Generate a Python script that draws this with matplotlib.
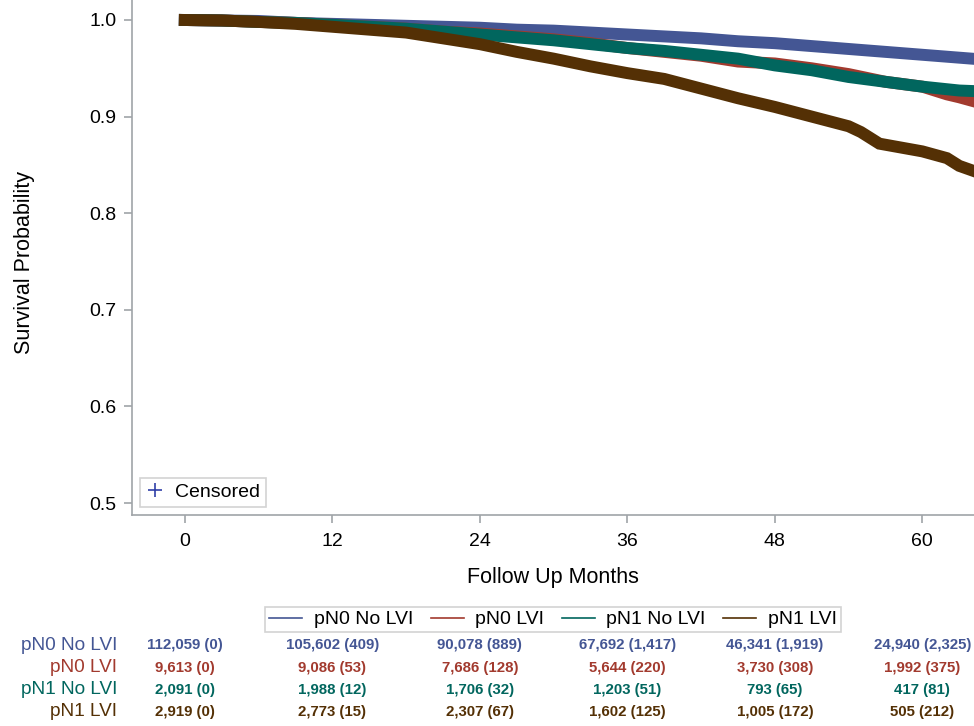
import numpy as np
import matplotlib.pyplot as plt
from matplotlib.lines import Line2D
from matplotlib.transforms import blended_transform_factory
from matplotlib import font_manager

plt.rcParams['font.family'] = ['Liberation Sans', 'DejaVu Sans']

# groups and colours
groups = ['pN0 No LVI', 'pN0 LVI', 'pN1 No LVI', 'pN1 LVI']
colors = ['#445694', '#A23A2E', '#01665E', '#543005']

# survival curves
t_pn0_nolvi = [0, 3, 6, 9, 12, 15, 18, 21, 24, 27, 30, 33, 36, 39, 42, 45, 48, 51, 54, 57, 60, 63, 65]
s_pn0_nolvi = [1.0, 0.9995, 0.999, 0.997, 0.996, 0.995, 0.994, 0.993, 0.992, 0.990, 0.989, 0.987,
               0.985, 0.983, 0.981, 0.978, 0.976, 0.973, 0.970, 0.967, 0.964, 0.961, 0.959]

t_pn0_lvi = [0, 3, 6, 9, 12, 15, 18, 21, 24, 27, 30, 33, 36, 39, 42, 45, 48, 51, 54, 57, 60, 62, 63, 65]
s_pn0_lvi = [1.0, 0.9995, 0.998, 0.997, 0.995, 0.993, 0.991, 0.988, 0.986, 0.983, 0.980, 0.976,
             0.971, 0.967, 0.963, 0.957, 0.955, 0.950, 0.944, 0.936, 0.931, 0.923, 0.920, 0.913]

t_pn1_nolvi = [0, 3, 6, 9, 12, 15, 18, 21, 24, 27, 30, 33, 36, 39, 42, 45, 48, 51, 54, 57, 60, 63, 65]
s_pn1_nolvi = [1.0, 0.9995, 0.998, 0.997, 0.995, 0.993, 0.991, 0.988, 0.985, 0.982, 0.979, 0.975,
               0.971, 0.968, 0.964, 0.960, 0.953, 0.948, 0.941, 0.936, 0.931, 0.927, 0.926]

t_pn1_lvi = [0, 3, 6, 9, 12, 15, 18, 21, 24, 27, 30, 33, 36, 39, 42, 45, 48, 51, 54, 55, 56.5,
             60, 62, 63, 65]
s_pn1_lvi = [1.0, 0.9995, 0.998, 0.996, 0.993, 0.990, 0.987, 0.981, 0.975, 0.967, 0.960, 0.952,
             0.945, 0.939, 0.929, 0.919, 0.910, 0.900, 0.890, 0.884, 0.872, 0.864, 0.857, 0.849, 0.840]

curves = [(t_pn0_nolvi, s_pn0_nolvi), (t_pn0_lvi, s_pn0_lvi),
          (t_pn1_nolvi, s_pn1_nolvi), (t_pn1_lvi, s_pn1_lvi)]

# number at risk (events) table
risk_months = [0, 12, 24, 36, 48, 60]
risk_pn0_nolvi = ['112,059 (0)', '105,602 (409)', '90,078 (889)', '67,692 (1,417)', '46,341 (1,919)', '24,940 (2,325)']
risk_pn0_lvi = ['9,613 (0)', '9,086 (53)', '7,686 (128)', '5,644 (220)', '3,730 (308)', '1,992 (375)']
risk_pn1_nolvi = ['2,091 (0)', '1,988 (12)', '1,706 (32)', '1,203 (51)', '793 (65)', '417 (81)']
risk_pn1_lvi = ['2,919 (0)', '2,773 (15)', '2,307 (67)', '1,602 (125)', '1,005 (172)', '505 (212)']
risk_rows = [risk_pn0_nolvi, risk_pn0_lvi, risk_pn1_nolvi, risk_pn1_lvi]

# bold sans for the table numbers
bold_fp = font_manager.FontProperties(family='Liberation Sans', weight='bold', size=10.8)

W, H = 974, 726
fig = plt.figure(figsize=(W / 100, H / 100), dpi=100)
ax = fig.add_axes([132 / W, 1 - 515 / H, 1 - 132 / W, 515 / H])

for (t, s), c in zip(curves, colors):
    ax.plot(t, s, color=c, linewidth=8.6, solid_capstyle='projecting', solid_joinstyle='miter')

ax.set_xlim(-4.3, 64.2)
ax.set_ylim(0.4876, 1.0207)
ax.set_xticks([0, 12, 24, 36, 48, 60])
ax.set_yticks([0.5, 0.6, 0.7, 0.8, 0.9, 1.0])
ax.set_yticklabels(['0.5', '0.6', '0.7', '0.8', '0.9', '1.0'])

spine_col = '#A0A4A8'
for side in ['top', 'right']:
    ax.spines[side].set_visible(False)
for side in ['left', 'bottom']:
    ax.spines[side].set_color(spine_col)
    ax.spines[side].set_linewidth(1.2)
ax.tick_params(axis='both', direction='out', length=6, width=1.2, color=spine_col,
               labelsize=14, labelcolor='black')
ax.tick_params(axis='x', pad=7)
ax.tick_params(axis='y', pad=5)

fig.text(25 / W, 1 - 262 / H, 'Survival Probability', rotation=90, ha='center', va='center', fontsize=15.5)
fig.text(553 / W, 1 - 577 / H, 'Follow Up Months', ha='center', va='center', fontsize=15.5)

# censored legend
cens = Line2D([], [], linestyle='none', marker='+', color='#3040A8', markersize=10, markeredgewidth=1.2)
leg1 = ax.legend(handles=[cens], labels=['Censored'], loc='lower left',
                 bbox_to_anchor=(0.0095, 0.0155), borderaxespad=0, fontsize=14,
                 frameon=True, fancybox=False, edgecolor='#C8C8C8', handlelength=0.9,
                 handletextpad=0.6, borderpad=0.3)
leg1.get_frame().set_linewidth(1.2)

# group legend
handles = [Line2D([], [], color=c, linewidth=1.2) for c in colors]
leg2 = fig.legend(handles=handles, labels=groups, loc='center', ncol=4,
                  bbox_to_anchor=(553 / W, 1 - 619.5 / H), fontsize=14, frameon=True,
                  fancybox=False, edgecolor='#C8C8C8', handlelength=1.7, handletextpad=0.6,
                  columnspacing=0.9, borderpad=0.2)
leg2.get_frame().set_linewidth(1.2)

# at-risk table
trans = blended_transform_factory(ax.transData, fig.transFigure)
row_y = [645, 668, 690, 712]
for name, c, vals, y in zip(groups, colors, risk_rows, row_y):
    fig.text(117 / W, 1 - y / H, name, color=c, ha='right', va='center', fontsize=13.7)
    for m, v in zip(risk_months, vals):
        ax.text(m, 1 - y / H, v, transform=trans, color=c, ha='center', va='center',
                fontproperties=bold_fp, clip_on=False)

fig.savefig('out.png', dpi=100)
